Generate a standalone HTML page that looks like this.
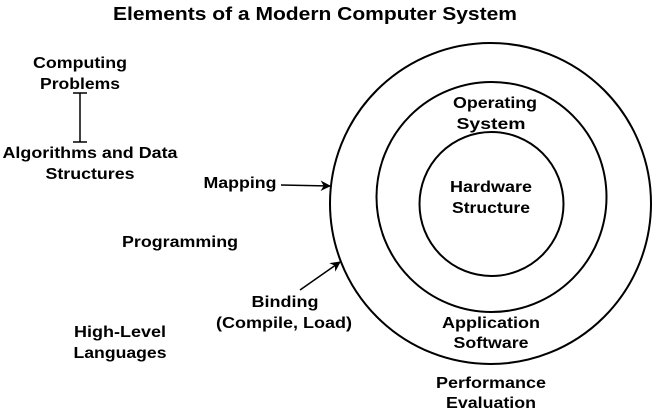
<!DOCTYPE html>
<html><head><meta charset="utf-8"><style>
body{margin:0;background:#fff}
svg text{font-family:"Liberation Sans",Arial,sans-serif;font-weight:bold;font-size:16px;fill:#000;text-anchor:middle}
</style></head><body>
<svg width="652" height="414" viewBox="0 0 652 414" xmlns="http://www.w3.org/2000/svg">
<defs><marker id="a" viewBox="0 0 10 10" refX="9" refY="5" markerWidth="7" markerHeight="7" orient="auto"><path d="M0,0 L10,5 L0,10 L3,5 Z" fill="#000"/></marker></defs>
<text x="315" y="20" style="font-size:18px" textLength="404" lengthAdjust="spacingAndGlyphs">Elements of a Modern Computer System</text>
<circle cx="490.5" cy="203.5" r="160.5" fill="none" stroke="#000" stroke-width="2"/>
<circle cx="491.5" cy="197" r="115" fill="none" stroke="#000" stroke-width="2"/>
<circle cx="491.5" cy="204" r="72" fill="none" stroke="#000" stroke-width="2"/>
<text x="495" y="108" textLength="84" lengthAdjust="spacingAndGlyphs">Operating</text><text x="491" y="129" textLength="69" lengthAdjust="spacingAndGlyphs">System</text>
<text x="491" y="192" textLength="82" lengthAdjust="spacingAndGlyphs">Hardware</text><text x="491" y="213" textLength="78" lengthAdjust="spacingAndGlyphs">Structure</text>
<text x="491" y="328" textLength="98" lengthAdjust="spacingAndGlyphs">Application</text><text x="491" y="348" textLength="75" lengthAdjust="spacingAndGlyphs">Software</text>
<text x="491" y="388" textLength="110" lengthAdjust="spacingAndGlyphs">Performance</text><text x="491" y="408" textLength="90" lengthAdjust="spacingAndGlyphs">Evaluation</text>
<text x="80" y="68" textLength="94" lengthAdjust="spacingAndGlyphs">Computing</text><text x="80" y="89" textLength="80" lengthAdjust="spacingAndGlyphs">Problems</text>
<path d="M80,93 V142 M73,93 H87 M73,142 H87" stroke="#000" stroke-width="1.5" fill="none"/>
<text x="90" y="158" textLength="175" lengthAdjust="spacingAndGlyphs">Algorithms and Data</text><text x="90" y="179" textLength="89" lengthAdjust="spacingAndGlyphs">Structures</text>
<text x="240" y="188" textLength="73" lengthAdjust="spacingAndGlyphs">Mapping</text>
<line x1="281" y1="185" x2="330" y2="186" stroke="#000" stroke-width="1.5" marker-end="url(#a)"/>
<text x="180" y="247" textLength="116" lengthAdjust="spacingAndGlyphs">Programming</text>
<line x1="300" y1="290" x2="340" y2="262" stroke="#000" stroke-width="1.5" marker-end="url(#a)"/>
<text x="285" y="307" textLength="67" lengthAdjust="spacingAndGlyphs">Binding</text><text x="284" y="328" textLength="136" lengthAdjust="spacingAndGlyphs">(Compile, Load)</text>
<text x="120" y="337" textLength="92" lengthAdjust="spacingAndGlyphs">High-Level</text><text x="120" y="358" textLength="93" lengthAdjust="spacingAndGlyphs">Languages</text>
</svg>
</body></html>
